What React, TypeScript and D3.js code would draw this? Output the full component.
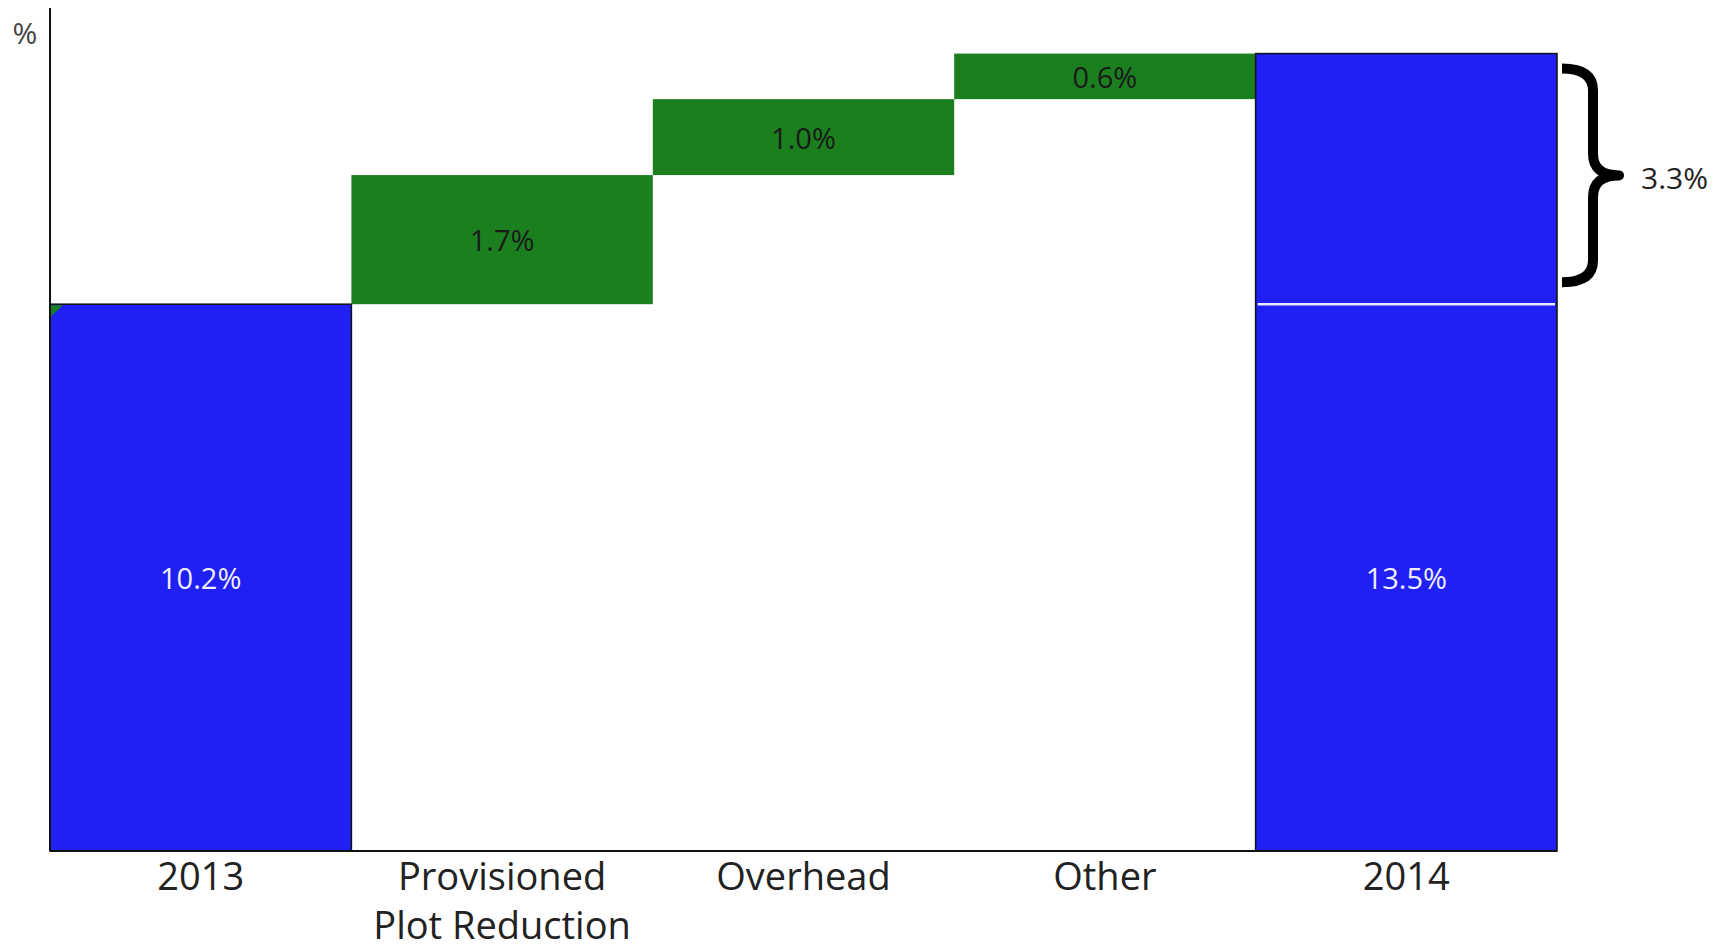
import React from 'react';
import * as d3 from 'd3';

// waterfall data
const categories = ['2013', 'Provisioned\nPlot Reduction', 'Overhead', 'Other', '2014'];
const values = [10.2, 1.7, 1.0, 0.6, 13.5];
const kinds = ['total', 'step', 'step', 'step', 'total'];
const valueLabels = ['10.2%', '1.7%', '1.0%', '0.6%', '13.5%'];
const changeLabel = '3.3%';
const yDomain = [3, 14.1];

const width = 1725, height = 948;
const margin = { top: 8, right: 168, bottom: 97, left: 50 };
const BLUE = '#2020f5';
const GREEN = '#1b7f1f';
const FONT = '"Open Sans", "Liberation Sans", sans-serif';

const App = () => {
  const x = d3.scaleBand()
    .domain(categories)
    .range([margin.left, width - margin.right])
    .padding(0);

  const y = d3.scaleLinear()
    .domain(yDomain)
    .range([height - margin.bottom, margin.top]);

  // running totals for the steps
  let running = 0;
  const bars = categories.map((c, i) => {
    let lo, hi;
    if (kinds[i] === 'total') {
      lo = yDomain[0];
      hi = values[i];
      running = values[i];
    } else {
      lo = running;
      hi = running + values[i];
      running = hi;
    }
    return { c, lo, hi, kind: kinds[i], label: valueLabels[i] };
  });

  const base = y(yDomain[0]);
  const first = bars[0];
  const last = bars[bars.length - 1];

  // brace next to the final bar
  const bx0 = (x(last.c) as number) + x.bandwidth() + 5;
  const bxc = bx0 + 31;
  const bxTip = bx0 + 57;
  const byT = y(last.hi) + 15;
  const byB = y(first.hi) - 22;
  const byM = (byT + byB) / 2;
  const r = 22;
  const brace = `M${bx0},${byT} Q${bxc},${byT} ${bxc},${byT + r} L${bxc},${byM - r} Q${bxc},${byM} ${bxTip},${byM} ` +
    `Q${bxc},${byM} ${bxc},${byM + r} L${bxc},${byB - r} Q${bxc},${byB} ${bx0},${byB}`;

  const fx = x(first.c) as number;
  const fy = y(first.hi);

  return (
    <svg width={width} height={height} style={{ position: 'absolute', left: 0, top: 0, background: '#fff' }}>
      {bars.map((b, i) => {
        const cx = (x(b.c) as number) + x.bandwidth() / 2;
        // totals: label sits in the part up to last year's level
        const labelTop = b.kind === 'total' ? Math.min(b.hi, first.hi) : b.hi;
        return (
          <g key={i}>
            <rect
              x={x(b.c)}
              y={y(b.hi)}
              width={x.bandwidth()}
              height={y(b.lo) - y(b.hi)}
              fill={b.kind === 'total' ? BLUE : GREEN}
              stroke={b.kind === 'total' ? '#111' : 'none'}
              strokeWidth={1.5}
            />
            <text
              x={cx}
              y={(y(labelTop) + y(b.lo)) / 2}
              textAnchor="middle"
              dominantBaseline="central"
              fontFamily={FONT}
              fontSize={29}
              fill={b.kind === 'total' ? '#eef' : '#1a1a1a'}
            >{b.label}</text>
            <text
              x={cx}
              y={base + 39}
              textAnchor="middle"
              fontFamily={FONT}
              fontSize={38}
              fill="#222"
            >
              {b.c.split('\n').map((line, j) => (
                <tspan key={j} x={cx} dy={j === 0 ? 0 : 49}>{line}</tspan>
              ))}
            </text>
          </g>
        );
      })}

      {/* white divider at previous year's level */}
      <line
        x1={(x(last.c) as number) + 2}
        x2={(x(last.c) as number) + x.bandwidth() - 2}
        y1={y(first.hi)}
        y2={y(first.hi)}
        stroke="#e8e8ff"
        strokeWidth={2.5}
      />

      {/* little green corner on the 2013 bar */}
      <path d={`M${fx + 1},${fy + 1} L${fx + 13},${fy + 1} L${fx + 1},${fy + 12} Z`} fill={GREEN} />

      {/* axes */}
      <line x1={margin.left} x2={margin.left} y1={margin.top} y2={base} stroke="#111" strokeWidth={2} />
      <line x1={margin.left} x2={width - margin.right} y1={base} y2={base} stroke="#111" strokeWidth={2} />
      <text x={25} y={44} textAnchor="middle" fontFamily={FONT} fontSize={30} fill="#444">%</text>

      <path d={brace} fill="none" stroke="#000" strokeWidth={10} strokeLinejoin="round" />
      <text x={bxTip + 22} y={byM + 2} dominantBaseline="central" fontFamily={FONT} fontSize={30} fill="#222">{changeLabel}</text>
    </svg>
  );
};

export default App;
